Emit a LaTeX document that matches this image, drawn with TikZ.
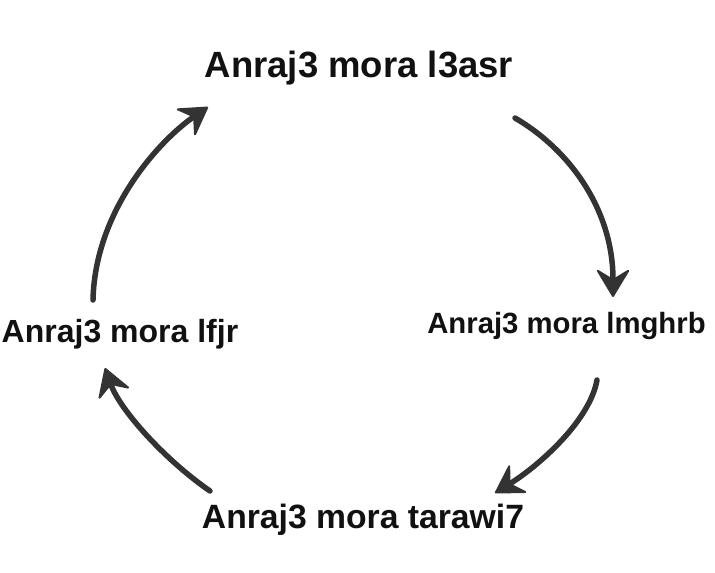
\documentclass[tikz,border=0pt]{standalone}
\usepackage{fontspec}
\setmainfont{Liberation Sans}
\usetikzlibrary{arrows.meta}
\definecolor{arrowgray}{HTML}{333333}
\definecolor{textblack}{HTML}{111111}
\tikzset{
  label/.style={inner sep=0pt, anchor=base, text=textblack, font=\bfseries},
  cyclearrow/.style={draw=arrowgray, line width=5.5pt, line cap=round,
    -{Stealth[length=30pt, width=36pt, inset=11pt, line width=2pt, round]}}
}
\begin{document}
\begin{tikzpicture}[x=1pt, y=-1pt]
\useasboundingbox[fill=white] (0,0) rectangle (715,573);
\node[label, font=\bfseries\fontsize{36.5}{40}\selectfont] (asr) at (359,77) {Anraj3 mora l3asr};
\node[label, font=\bfseries\fontsize{29.3}{33}\selectfont] (mghrb) at (566.5,333) {Anraj3 mora lmghrb};
\node[label, font=\bfseries\fontsize{32}{36}\selectfont] (fjr) at (120,342) {Anraj3 mora lfjr};
\node[label, font=\bfseries\fontsize{33.7}{37}\selectfont] (tarawi) at (363,528) {Anraj3 mora tarawi7};
% connector ends
\coordinate (a1s) at (515,118);
\coordinate (a1e) at (613,297);
\coordinate (a2s) at (597,380);
\coordinate (a2e) at (495,493);
\coordinate (a3s) at (210,491);
\coordinate (a3e) at (105,368);
\coordinate (a4s) at (93,300);
\coordinate (a4e) at (208,107);
\draw[cyclearrow] (a1s) .. controls (570,150) and (613,210) .. (a1e);
\draw[cyclearrow] (a2s) .. controls (590,420) and (540,465) .. (a2e);
\draw[cyclearrow] (a3s) .. controls (165,460) and (120,410) .. (a3e);
\draw[cyclearrow] (a4s) .. controls (95,210) and (160,140) .. (a4e);
\end{tikzpicture}
\end{document}
